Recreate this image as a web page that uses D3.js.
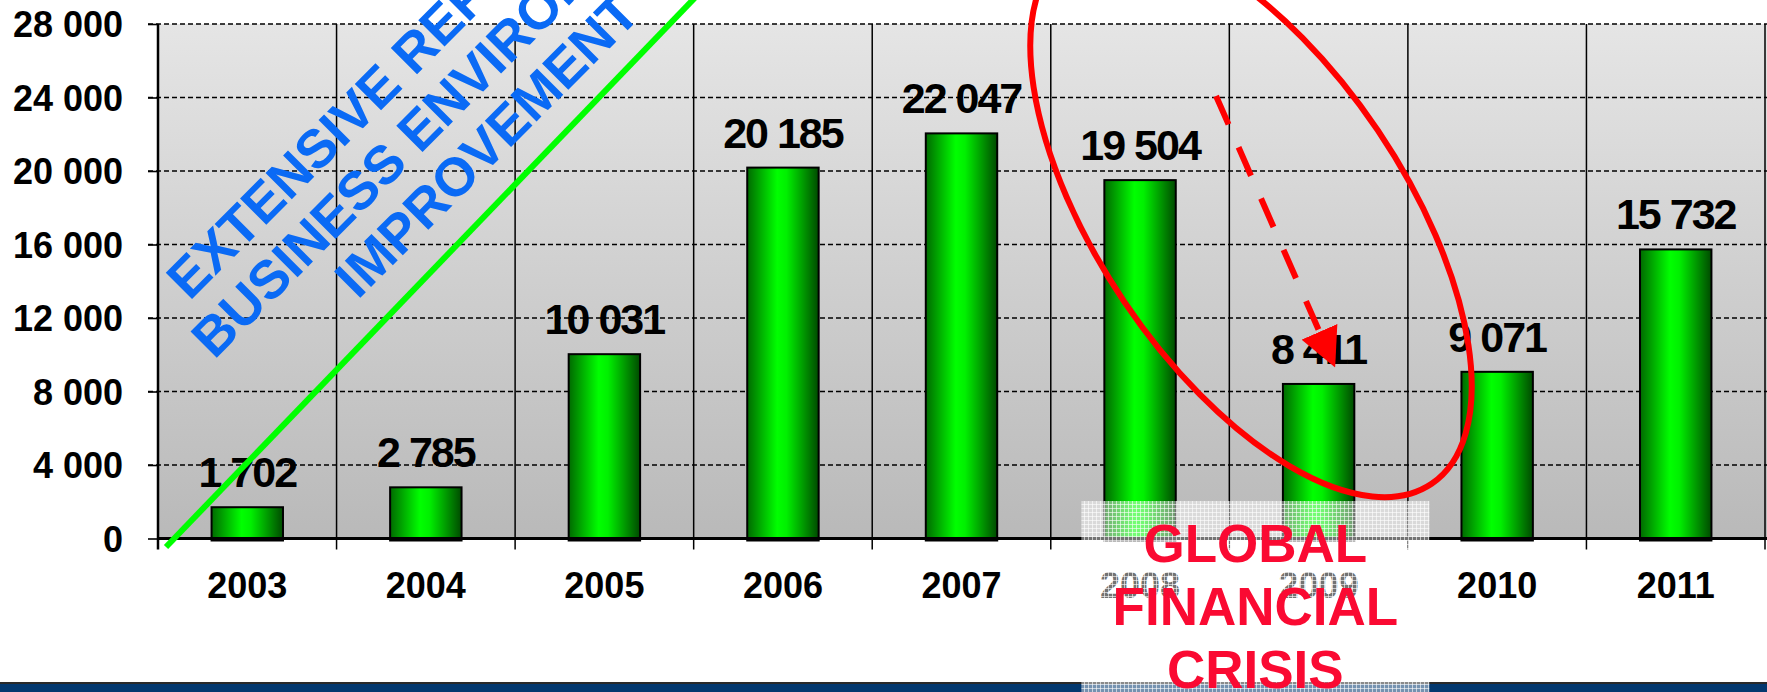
<!DOCTYPE html>
<html>
<head>
<meta charset="utf-8">
<script src="https://cdn.jsdelivr.net/npm/d3@7"></script>
<style>
  body { margin: 0; background: #fff; }
  svg { display: block; font-family: "Liberation Sans", Arial, sans-serif; font-weight: bold; }
</style>
</head>
<body>
<script>
// FDI inflows by year, with the reform / crisis annotations

var years = ["2003", "2004", "2005", "2006", "2007", "2008", "2009", "2010", "2011"];
var values = [1702, 2785, 10031, 20185, 22047, 19504, 8411, 9071, 15732];
var yTicks = [0, 4000, 8000, 12000, 16000, 20000, 24000, 28000];
var reformLines = ["EXTENSIVE REFORMS &", "BUSINESS ENVIRONMENT", "IMPROVEMENT"];
var crisisLines = ["GLOBAL", "FINANCIAL", "CRISIS"];
var crisisYears = ["2008", "2009"];

// note: "top" is taken by window.top, so plot edges get their own names
var width = 1767,
    height = 692,
    plotLeft = 158,
    plotRight = 1765,
    plotTop = 24,
    plotBottom = 538.5;

var fmt = d3.formatLocale({decimal: ".", thousands: " ", grouping: [3], currency: ["", ""]}).format(",");

var x = d3.scaleBand()
    .domain(years)
    .range([plotLeft, plotRight])
    .paddingInner(0.6)
    .paddingOuter(0.3);

var y = d3.scaleLinear()
    .domain([0, 28000])
    .range([plotBottom, plotTop]);

var mid = d => x(d) + x.bandwidth() / 2;

var svg = d3.select("body").append("svg")
    .attr("width", width)
    .attr("height", height);

var defs = svg.append("defs");

// plot background, light grey fading down
var bg = defs.append("linearGradient").attr("id", "bg")
    .attr("x1", 0).attr("y1", 0).attr("x2", 0).attr("y2", 1);
bg.append("stop").attr("offset", "0%").attr("stop-color", "#e5e5e5");
bg.append("stop").attr("offset", "100%").attr("stop-color", "#b9b9b9");

// cylinder-ish green for bars
var bar = defs.append("linearGradient").attr("id", "bar")
    .attr("x1", 0).attr("y1", 0).attr("x2", 1).attr("y2", 0);
bar.append("stop").attr("offset", "0%").attr("stop-color", "#006a00");
bar.append("stop").attr("offset", "42%").attr("stop-color", "#00ff00");
bar.append("stop").attr("offset", "55%").attr("stop-color", "#00f000");
bar.append("stop").attr("offset", "100%").attr("stop-color", "#004a00");

// checkered white texture of the crisis text box
var pat = defs.append("pattern").attr("id", "chk")
    .attr("width", 4).attr("height", 4)
    .attr("patternUnits", "userSpaceOnUse");
pat.append("rect").attr("width", 4).attr("height", 4).attr("fill", "#fff").attr("opacity", 0.45);
pat.append("rect").attr("width", 4).attr("height", 1).attr("fill", "#fff").attr("opacity", 0.6);
pat.append("rect").attr("width", 1).attr("height", 4).attr("fill", "#fff").attr("opacity", 0.6);

var arrowHead = defs.append("marker").attr("id", "head")
    .attr("viewBox", "0 0 10 10")
    .attr("refX", 2).attr("refY", 5)
    .attr("markerWidth", 6.5).attr("markerHeight", 6.5)
    .attr("markerUnits", "strokeWidth")
    .attr("orient", "auto");
arrowHead.append("path").attr("d", "M0,0L10,5L0,10Z").attr("fill", "#ff0000");

svg.append("rect")
    .attr("x", plotLeft)
    .attr("y", plotTop)
    .attr("width", width - plotLeft)
    .attr("height", plotBottom - plotTop)
    .attr("fill", "url(#bg)");

// dashed gridlines
svg.append("g")
    .selectAll("line")
    .data(yTicks.slice(1))
    .enter()
    .append("line")
    .attr("x1", plotLeft - 10)
    .attr("x2", width)
    .attr("y1", d => y(d))
    .attr("y2", d => y(d))
    .attr("stroke", "#000")
    .attr("stroke-width", 1.6)
    .attr("stroke-dasharray", "5,3");

// category dividers, running past the baseline as ticks
var step = x.step();
svg.append("g")
    .selectAll("line")
    .data(d3.range(years.length + 1))
    .enter()
    .append("line")
    .attr("x1", i => plotLeft + i * step)
    .attr("x2", i => plotLeft + i * step)
    .attr("y1", plotTop)
    .attr("y2", plotBottom + 11)
    .attr("stroke", "#000")
    .attr("stroke-width", i => i === 0 ? 2.5 : 1.5);

// y axis labels
var yAxis = svg.append("g")
    .attr("transform", "translate(" + plotLeft + ",0)")
    .call(d3.axisLeft(y).tickValues(yTicks).tickFormat(fmt).tickSize(10).tickPadding(25));
yAxis.select(".domain").remove();
yAxis.selectAll(".tick line").attr("stroke", "#000").attr("stroke-width", 1.6);
yAxis.selectAll("text")
    .attr("fill", "#000")
    .style("font-size", "36px")
    .style("font-family", "'Liberation Sans', Arial, sans-serif")
    .style("font-weight", "bold")
    .attr("dy", "0.36em");

// bars
svg.append("g")
    .selectAll("rect")
    .data(values)
    .enter()
    .append("rect")
    .attr("x", (d, i) => x(years[i]))
    .attr("y", d => y(d))
    .attr("width", x.bandwidth())
    .attr("height", d => plotBottom - y(d) + 2)
    .attr("fill", "url(#bar)")
    .attr("stroke", "#000")
    .attr("stroke-width", 2);

// baseline
svg.append("line")
    .attr("x1", plotLeft)
    .attr("x2", width)
    .attr("y1", plotBottom)
    .attr("y2", plotBottom)
    .attr("stroke", "#000")
    .attr("stroke-width", 3);

// value labels
svg.append("g")
    .selectAll("text")
    .data(values)
    .enter()
    .append("text")
    .attr("x", (d, i) => mid(years[i]))
    .attr("y", d => y(d) - 20)
    .attr("text-anchor", "middle")
    .style("font-size", "43px")
    .style("letter-spacing", "-2px")
    .attr("fill", "#000")
    .text(d => fmt(d));

// year labels
svg.append("g")
    .selectAll("text")
    .data(years)
    .enter()
    .append("text")
    .attr("x", d => mid(d))
    .attr("y", 598)
    .attr("text-anchor", "middle")
    .style("font-size", "36px")
    .attr("fill", "#000")
    .text(d => d);

// green trend line
svg.append("line")
    .attr("x1", 166)
    .attr("y1", 547)
    .attr("x2", 712)
    .attr("y2", -20)
    .attr("stroke", "#00ff00")
    .attr("stroke-width", 6);

// rotated blue note
svg.append("g")
    .attr("transform", "translate(500,158) rotate(-45)")
    .selectAll("text")
    .data(reformLines)
    .enter()
    .append("text")
    .attr("x", 0)
    .attr("y", (d, i) => (i - 2) * 59)
    .attr("text-anchor", "middle")
    .style("font-size", "54px")
    .attr("fill", "#0a6af5")
    .text(d => d);

// red ellipse around the drop
svg.append("ellipse")
    .attr("transform", "translate(1251,216) rotate(56)")
    .attr("rx", 323)
    .attr("ry", 153)
    .attr("fill", "none")
    .attr("stroke", "#ff0000")
    .attr("stroke-width", 6);

// dashed arrow 2008 -> 2009
svg.append("line")
    .attr("x1", mid("2008") + 76)
    .attr("y1", y(24000) - 1.5)
    .attr("x2", mid("2009") + 4)
    .attr("y2", y(values[6]) - 45)
    .attr("stroke", "#ff0000")
    .attr("stroke-width", 6)
    .attr("stroke-dasharray", "31,25")
    .attr("marker-end", "url(#head)");

// bottom band
svg.append("rect")
    .attr("x", 0)
    .attr("y", 683)
    .attr("width", width)
    .attr("height", 9)
    .attr("fill", "#03386f");
svg.append("line")
    .attr("x1", 0)
    .attr("x2", width)
    .attr("y1", 683)
    .attr("y2", 683)
    .attr("stroke", "#2a2a2a")
    .attr("stroke-width", 2);

// crisis text box with textured fill
var boxX = x(crisisYears[0]) - 23;
svg.append("rect")
    .attr("x", boxX)
    .attr("y", 501)
    .attr("width", 348)
    .attr("height", height - 501)
    .attr("fill", "url(#chk)");

svg.append("g")
    .selectAll("text")
    .data(crisisLines)
    .enter()
    .append("text")
    .attr("x", boxX + 174)
    .attr("y", (d, i) => 562 + i * 63)
    .attr("text-anchor", "middle")
    .style("font-size", "53px")
    .attr("fill", "#fa0a32")
    .text(d => d);
</script>
</body>
</html>
